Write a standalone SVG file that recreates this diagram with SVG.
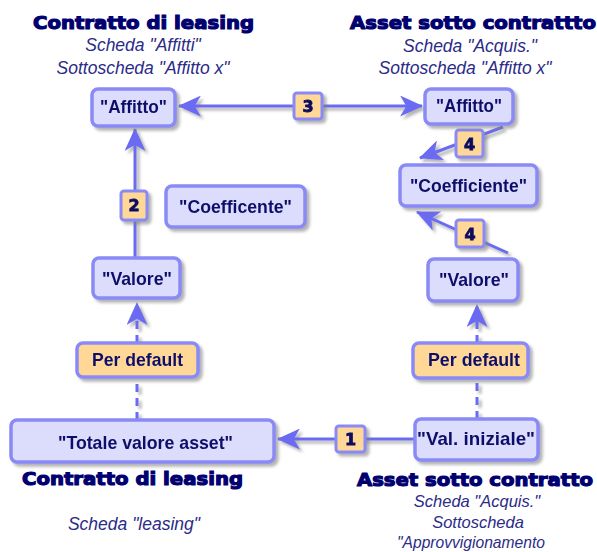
<svg xmlns="http://www.w3.org/2000/svg" width="597" height="552" viewBox="0 0 597 552">
<defs>
<filter id="sh" x="-20%" y="-20%" width="140%" height="160%">
<feDropShadow dx="3" dy="3" stdDeviation="1.6" flood-color="#808080" flood-opacity="0.6"/>
</filter>
<marker id="ah" viewBox="0 0 22 20" refX="21" refY="10" markerWidth="23" markerHeight="21" markerUnits="userSpaceOnUse" orient="auto">
<path d="M0,0 L22,10 L0,20 L6,10 z" fill="#6a6af2"/>
</marker>
<style>
.box{fill:#dcdcfc;stroke:#8a8af6;stroke-width:3.5}
.def{fill:#ffd898;stroke:#8a8af6;stroke-width:3.5}
.bd{fill:#ffd898;stroke:#8a8af6;stroke-width:3}
.nt{font-family:"Liberation Sans",Arial,sans-serif;font-weight:bold;font-size:19px;fill:#10106a;text-anchor:middle}
.bn{font-family:"DejaVu Sans",sans-serif;font-weight:bold;font-size:16px;fill:#0a0a60;stroke:#0a0a60;stroke-width:0.8;text-anchor:middle}
.tt{font-family:"DejaVu Sans",sans-serif;font-weight:bold;font-size:17px;fill:#000070;stroke:#000070;stroke-width:1.1}
.st{font-family:"Liberation Sans",Arial,sans-serif;font-style:italic;font-size:17.5px;fill:#2b2b88;text-anchor:middle}
.st2{font-family:"Liberation Sans",Arial,sans-serif;font-style:italic;font-size:16.5px;fill:#2b2b88;text-anchor:middle}
.ln{stroke:#6a6af2;stroke-width:3;fill:none}
.ds{stroke:#6a6af2;stroke-width:3;fill:none;stroke-dasharray:8 6}
</style>
</defs>
<rect width="597" height="552" fill="#ffffff"/>

<g id="titles">
<text class="tt" x="33" y="29" textLength="221" lengthAdjust="spacingAndGlyphs">Contratto di leasing</text>
<text class="st" x="143" y="51">Scheda "Affitti"</text>
<text class="st" x="143" y="74">Sottoscheda "Affitto x"</text>
<text class="tt" x="350" y="29" textLength="246" lengthAdjust="spacingAndGlyphs">Asset sotto contrattto</text>
<text class="st" x="470" y="52">Scheda "Acquis."</text>
<text class="st" x="465" y="74">Sottoscheda "Affitto x"</text>
<text class="tt" x="22" y="485" textLength="221" lengthAdjust="spacingAndGlyphs">Contratto di leasing</text>
<text class="st" x="134" y="530">Scheda "leasing"</text>
<text class="tt" x="357" y="486" textLength="236" lengthAdjust="spacingAndGlyphs">Asset sotto contratto</text>
<text class="st2" x="477" y="507">Scheda "Acquis."</text>
<text class="st2" x="478" y="528">Sottoscheda</text>
<text class="st2" x="471" y="548" textLength="148" lengthAdjust="spacingAndGlyphs">"Approvvigionamento</text>
</g>

<g id="connectors" filter="url(#sh)">
<path class="ln" d="M308,106 L179,106" marker-end="url(#ah)"/>
<path class="ln" d="M308,106 L422,106" marker-end="url(#ah)"/>
<path class="ln" d="M135,258 L135,129" marker-end="url(#ah)"/>
<path class="ds" d="M137,420 L137,378"/>
<path class="ds" d="M137,343 L137,303" marker-end="url(#ah)"/>
<path class="ds" d="M477,419 L477,379"/>
<path class="ds" d="M477,343 L477,305" marker-end="url(#ah)"/>
<path class="ln" d="M415,439 L278,439" marker-end="url(#ah)"/>
<path class="ln" d="M503,127 L420,158" marker-end="url(#ah)"/>
<path class="ln" d="M508,253 L417,212" marker-end="url(#ah)"/>
</g>

<g id="badges" filter="url(#sh)">
<g id="badge-3"><rect class="bd" x="294" y="93" width="28" height="26" rx="3"/><text class="bn" x="308" y="112">3</text></g>
<g id="badge-2"><rect class="bd" x="121" y="191" width="26" height="29" rx="3"/><text class="bn" x="134" y="211">2</text></g>
<g id="badge-4a"><rect class="bd" x="456" y="130" width="27" height="27" rx="3"/><text class="bn" x="469.5" y="149.5">4</text></g>
<g id="badge-4b"><rect class="bd" x="456" y="220" width="28" height="27" rx="3"/><text class="bn" x="470" y="239.5">4</text></g>
<g id="badge-1"><rect class="bd" x="336" y="426" width="29" height="26" rx="3"/><text class="bn" x="350.5" y="445">1</text></g>
</g>

<g id="affitto-left" filter="url(#sh)"><rect class="box" x="92" y="89" width="83" height="37" rx="6"/><text class="nt" x="133.5" y="113" textLength="67" lengthAdjust="spacingAndGlyphs">"Affitto"</text></g>
<g id="affitto-right" filter="url(#sh)"><rect class="box" x="425" y="89" width="88" height="35" rx="6"/><text class="nt" x="469" y="112" textLength="66" lengthAdjust="spacingAndGlyphs">"Affitto"</text></g>
<g id="coefficente-left" filter="url(#sh)"><rect class="box" x="166" y="186" width="139" height="41" rx="6"/><text class="nt" x="235.5" y="213" textLength="113" lengthAdjust="spacingAndGlyphs">"Coefficente"</text></g>
<g id="coefficiente-right" filter="url(#sh)"><rect class="box" x="400" y="165" width="137" height="41" rx="6"/><text class="nt" x="468.5" y="192" textLength="117" lengthAdjust="spacingAndGlyphs">"Coefficiente"</text></g>
<g id="valore-left" filter="url(#sh)"><rect class="box" x="93" y="258" width="87" height="40" rx="6"/><text class="nt" x="137" y="285" textLength="70" lengthAdjust="spacingAndGlyphs">"Valore"</text></g>
<g id="valore-right" filter="url(#sh)"><rect class="box" x="428" y="259" width="90" height="42" rx="6"/><text class="nt" x="474" y="286" textLength="70" lengthAdjust="spacingAndGlyphs">"Valore"</text></g>
<g id="default-left" filter="url(#sh)"><rect class="def" x="77" y="343" width="121" height="34" rx="6"/><text class="nt" x="137.5" y="366" textLength="91" lengthAdjust="spacingAndGlyphs">Per default</text></g>
<g id="default-right" filter="url(#sh)"><rect class="def" x="413" y="343" width="115" height="35" rx="6"/><text class="nt" x="474" y="366" textLength="92" lengthAdjust="spacingAndGlyphs">Per default</text></g>
<g id="totale" filter="url(#sh)"><rect class="box" x="11" y="420" width="263" height="42" rx="6"/><text class="nt" x="145.5" y="449" textLength="175" lengthAdjust="spacingAndGlyphs">"Totale valore asset"</text></g>
<g id="val-iniziale" filter="url(#sh)"><rect class="box" x="415" y="419" width="123" height="41" rx="6"/><text class="nt" x="476" y="445" textLength="118" lengthAdjust="spacingAndGlyphs">"Val. iniziale"</text></g>
</svg>
